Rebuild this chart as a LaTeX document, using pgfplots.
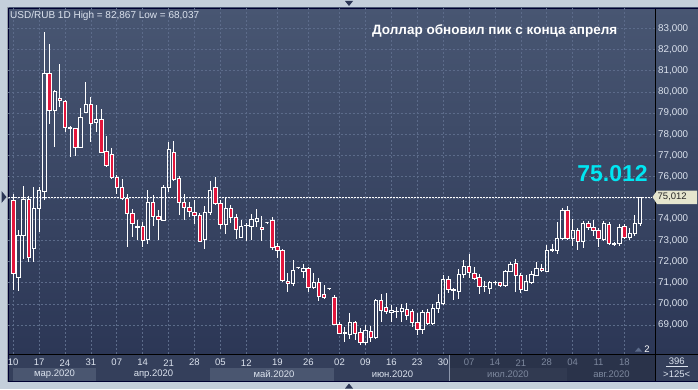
\documentclass[border=0pt]{standalone}
\usepackage{pgfplots}
\usepackage{pgfplotstable}
\pgfplotsset{compat=1.18}
\usepackage{fontspec}
\setmainfont{Liberation Sans}
\definecolor{frame}{HTML}{C4CFDB}
\definecolor{bgtop}{HTML}{485672}
\definecolor{bgbot}{HTML}{2C3756}
\definecolor{gridc}{HTML}{5C6B8A}
\definecolor{candlered}{HTML}{E3163C}
\definecolor{lbl}{HTML}{DCE3EE}
\definecolor{dim}{HTML}{7C879D}
\definecolor{band}{HTML}{343F5B}
\definecolor{bandlight}{HTML}{4A5670}
\definecolor{banddark}{HTML}{2A334A}
\definecolor{banddark2}{HTML}{313A51}
\definecolor{cyantxt}{HTML}{00E6F2}
\definecolor{pricebox}{HTML}{E6E6CE}
\def\ppu{21.2}

\pgfplotstableread{
i o h l c
0 70.78 75.00 70.70 74.89
1 74.89 75.17 70.64 71.44
2 71.25 73.47 70.60 73.24
3 73.24 75.55 72.10 74.93
4 74.93 75.08 72.00 72.20
5 72.62 75.50 72.00 74.50
6 74.50 75.50 73.38 75.36
7 75.33 82.85 74.90 80.86
8 80.86 82.28 78.50 79.13
9 79.13 80.10 77.40 80.03
10 79.68 81.33 79.30 79.60
11 79.56 79.60 78.10 78.32
12 78.32 78.40 76.93 78.30
13 78.27 78.30 77.00 77.40
14 77.40 79.26 77.35 78.82
15 79.05 80.47 79.00 79.40
16 79.40 79.76 77.64 78.53
17 78.55 79.37 78.10 78.70
18 78.70 79.20 77.10 77.17
19 77.20 77.90 76.46 76.55
20 77.06 77.37 75.88 75.99
21 75.99 76.10 75.20 75.51
22 75.49 75.88 74.89 74.97
23 74.97 75.17 72.68 74.29
24 74.29 74.50 73.16 73.79
25 73.65 73.94 73.00 73.62
26 73.66 73.86 72.68 73.00
27 73.03 75.36 72.84 74.81
28 74.81 75.12 73.66 74.13
29 74.13 74.42 73.03 73.98
30 73.94 75.60 73.90 75.49
31 75.49 77.64 75.28 77.28
32 77.14 77.67 75.80 75.86
33 75.90 76.03 74.18 74.81
34 74.81 75.20 73.98 74.57
35 74.54 74.80 74.10 74.37
36 74.33 74.89 73.79 74.16
37 74.18 74.30 72.95 72.97
38 73.03 74.60 72.60 74.33
39 74.33 75.78 74.18 75.36
40 75.49 75.99 74.70 74.73
41 74.76 74.90 73.55 73.74
42 73.74 75.01 73.28 74.50
43 74.50 74.65 73.82 74.10
44 74.07 74.25 73.08 73.50
45 73.16 73.98 73.10 73.66
46 73.70 73.80 72.95 73.72
47 73.67 74.26 73.03 73.98
48 73.91 74.50 73.63 74.02
49 73.60 74.13 72.97 73.50
50 73.83 73.85 73.81 73.83
51 73.94 74.10 72.56 72.68
52 72.72 72.87 72.18 72.53
53 72.53 72.60 71.05 71.11
54 71.08 71.46 70.56 70.96
55 70.96 72.09 70.84 71.58
56 71.71 71.72 71.70 71.71
57 71.54 71.87 71.24 71.66
58 71.66 71.75 70.56 70.80
59 70.80 71.48 70.72 71.00
60 71.00 71.20 70.14 70.37
61 70.45 70.88 70.25 70.33
62 70.72 70.73 70.71 70.72
63 70.30 70.40 69.00 69.04
64 69.04 69.15 68.60 68.63
65 68.63 68.90 68.20 68.66
66 68.55 69.57 68.36 69.13
67 69.13 69.20 68.28 68.63
68 68.65 68.85 68.04 68.20
69 68.20 68.99 68.04 68.75
70 68.71 68.94 68.20 68.44
71 68.41 70.25 68.35 70.17
72 70.17 70.49 69.15 69.70
73 69.83 70.53 69.51 69.67
74 69.60 69.93 69.15 69.70
75 69.64 69.85 69.35 69.66
76 69.67 70.01 69.15 69.79
77 69.73 70.04 69.23 69.46
78 69.65 69.75 68.91 69.12
79 69.12 69.57 68.55 68.79
80 68.79 69.70 68.60 69.59
81 69.59 69.75 69.00 69.07
82 69.07 69.98 69.00 69.78
83 69.78 70.45 69.57 70.09
84 70.01 71.35 69.98 71.15
85 71.15 71.30 70.51 70.67
86 70.66 70.75 70.20 70.68
87 70.61 71.66 70.22 71.38
88 71.38 72.09 71.24 71.77
89 71.77 72.34 71.24 71.48
90 71.46 71.72 71.11 71.22
91 71.27 71.40 70.49 70.83
92 70.83 71.10 70.55 70.85
93 70.75 71.10 70.45 71.00
94 71.00 71.10 70.90 71.02
95 71.00 71.05 70.80 70.88
96 70.88 71.60 70.80 71.54
97 71.55 72.00 71.50 71.85
98 71.93 72.14 70.56 71.35
99 71.35 71.45 70.51 70.67
100 70.64 71.35 70.60 71.07
101 71.03 71.55 70.95 71.38
102 71.35 71.98 71.30 71.69
103 71.66 71.90 71.50 71.58
104 71.55 72.76 71.50 72.53
105 72.55 72.84 72.45 72.57
106 72.53 73.86 72.37 73.11
107 73.08 74.53 73.00 74.41
108 74.41 74.60 73.00 73.11
109 73.11 74.00 72.72 73.47
110 73.47 73.60 72.56 72.97
111 72.97 73.89 72.66 73.82
112 73.79 73.90 73.50 73.63
113 73.63 73.98 73.19 73.47
114 73.47 73.60 72.68 73.08
115 73.03 73.90 72.95 73.82
116 73.75 73.86 72.80 72.87
117 72.83 72.90 72.75 72.85
118 72.87 73.75 72.73 73.63
119 73.66 73.75 73.05 73.13
120 73.13 73.60 73.00 73.32
121 73.34 74.18 73.19 73.79
122 73.79 75.05 73.66 75.012
}\candles

\begin{document}
\begin{tikzpicture}
\useasboundingbox (0,0) rectangle (698pt,389pt);
\begin{scope}[x=1pt,y=-1pt,shift={(0pt,389pt)}]
  \fill[frame] (0,0) rectangle (698,389);
  \draw[frame!75!black, line width=0.6pt] (7.3,7.3) rectangle (698,381.7);
  \fill[top color=bgtop, bottom color=bgbot] (8.5,8) rectangle (698,354);
  \fill[band] (8.5,354) rectangle (698,381);
  \fill[bandlight] (12.7,368) rectangle (96,380.7);
  \fill[bandlight] (210,368) rectangle (334,380.7);
  \fill[banddark] (449.3,354.5) rectangle (654.5,381);
  \fill[banddark2] (449.3,368) rectangle (567,380.7);
  \draw[gridc!70!white, line width=0.5pt] (449.3,354.5) -- (449.3,381);
  \draw[black, line width=1pt] (8.5,354) -- (698,354);
  \draw[black, line width=1pt] (655,8) -- (655,381);
  \draw[black!80!blue, line width=0.8pt] (8.5,8) rectangle (698,381);
  \fill[bgbot] (1.5,191) -- (6.5,197) -- (1.5,203) -- cycle;
  \fill[bgbot] (345,1) -- (353,1) -- (349,6) -- cycle;
  \fill[bgbot] (345,388.5) -- (353,388.5) -- (349,383.5) -- cycle;
  \begin{scope}[every node/.style={font=\fontsize{9.5}{10}\selectfont, inner sep=0pt}]
  \node[text=lbl] at (54.5,374.3) {мар.2020};
  \node[text=lbl] at (153.5,374.3) {апр.2020};
  \node[text=lbl] at (274,374.3) {май.2020};
  \node[text=lbl] at (392.5,374.3) {июн.2020};
  \node[text=dim] at (508,374.3) {июл.2020};
  \node[text=dim] at (611.5,374.3) {авг.2020};
  \node[text=lbl] at (676.7,361.7) {396};
  \draw[lbl, line width=0.5pt] (666,366.5) -- (688,366.5);
  \node[text=lbl] at (676.7,374.3) {>125<};
  \node[text=white] at (647,349) {2};
  \end{scope}
  \fill[gridc] (635,351.5) -- (642,351.5) -- (638.5,347.5) -- cycle;
\end{scope}

\begin{axis}[
  at={(8.5pt,35pt)}, anchor=south west,
  scale only axis, width=646.5pt, height=346pt,
  xmin=0.1, xmax=124.9, ymin=67.637, ymax=83.958,
  axis line style={draw=none}, major tick length=0pt,
  xtick={1,6,11,16,21,26,31,36,41,46,52,58,64,69,74,79,84,89,94,99,104,109,114,119},
  xticklabels={10,17,24,31,07,14,21,28,05,12,19,26,02,09,16,23,30,
    \textcolor{dim}{07},\textcolor{dim}{14},\textcolor{dim}{21},\textcolor{dim}{28},
    \textcolor{dim}{04},\textcolor{dim}{11},\textcolor{dim}{18}},
  xticklabel style={anchor=center, yshift=-8.7pt, font=\fontsize{9.5}{10}\selectfont, text=lbl, inner sep=0pt},
  ytick={69,70,...,83},
  yticklabels={{69,000},{70,000},{71,000},{72,000},{73,000},{74,000},{75,000},{76,000},{77,000},{78,000},{79,000},{80,000},{81,000},{82,000},{83,000}},
  yticklabel pos=right,
  yticklabel style={anchor=west, font=\fontsize{9.8}{10}\selectfont, text=lbl, inner sep=0pt, xshift=3pt},
  grid=major,
  grid style={gridc, dash pattern=on 2pt off 2pt, line width=0.6pt},
  clip marker paths=true,
]
\addplot[white, line width=0.6pt, dash pattern=on 2pt off 1pt] coordinates {(0.1,75.012) (124.3,75.012)};
\addplot[
  scatter, only marks, mark=*, mark size=0pt, mark options={draw=none, fill=none},
  point meta=y,
  visualization depends on={\thisrow{o} \as \vo},
  visualization depends on={\thisrow{h} \as \vh},
  visualization depends on={\thisrow{l} \as \vl},
  visualization depends on={\thisrow{c} \as \vc},
  scatter/@pre marker code/.code={%
    \pgfmathsetmacro\mx{max(\vo,\vc)}%
    \pgfmathsetmacro\mn{min(\vo,\vc)}%
    \pgfmathsetmacro\hb{(\mx-\mn)*\ppu/2}%
    \pgfmathsetmacro\uw{(\vh-\mx)*\ppu}%
    \pgfmathsetmacro\lw{(\mn-\vl)*\ppu}%
    \draw[white, line width=0.8pt] (0pt,\hb pt) -- ++(0pt,\uw pt);
    \draw[white, line width=0.8pt] (0pt,-\hb pt) -- ++(0pt,-\lw pt);
    \ifdim\vc pt<\vo pt
      \filldraw[draw=white, fill=candlered, line width=0.7pt] (-1.7pt,-\hb pt) rectangle (1.7pt,\hb pt);
    \else
      \draw[white, line width=0.7pt] (-1.7pt,-\hb pt) rectangle (1.7pt,\hb pt);
    \fi
  },
  scatter/@post marker code/.code={},
] table[x=i, y expr={(\thisrow{o}+\thisrow{c})/2}] {\candles};
\end{axis}

\begin{scope}[x=1pt,y=-1pt,shift={(0pt,389pt)}]
  \node[anchor=west, inner sep=0pt, text=lbl, font=\fontsize{10}{11}\selectfont] at (10,15.5) {USD/RUB 1D High = 82,867 Low = 68,037};
  \node[anchor=west, inner sep=0pt, text=white, font=\fontsize{13.5}{15}\selectfont\bfseries] at (372,31) {Доллар обновил пик с конца апреля};
  \node[inner sep=0pt, text=cyantxt, font=\fontsize{23}{25}\selectfont\bfseries] at (612.5,174) {75.012};
  \fill[pricebox] (652.5,197) -- (657,190.5) -- (697,190.5) -- (697,204) -- (657,204) -- cycle;
  \node[anchor=west, inner sep=0pt, text=black!85, font=\fontsize{9.5}{10}\selectfont] at (657.5,197) {75,012};
\end{scope}
\end{tikzpicture}
\end{document}
